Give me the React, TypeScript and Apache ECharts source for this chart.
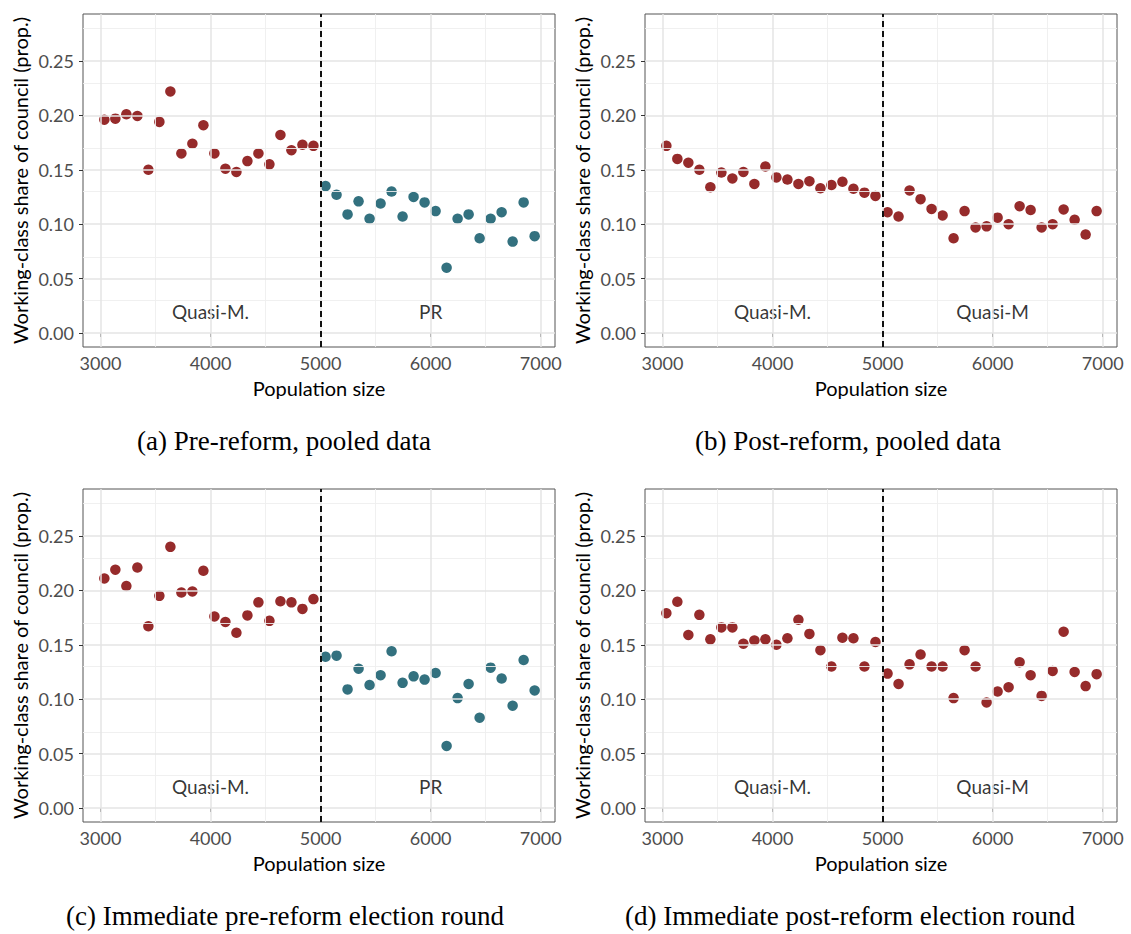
import React, { useEffect, useRef } from "react";
import * as echarts from "echarts";

// Bin centres (population size)
const xLeft = [3035, 3135, 3235, 3335, 3435, 3535, 3635, 3735, 3835, 3935, 4035, 4135, 4235, 4335, 4435, 4535, 4635, 4735, 4835, 4935];
const xRight = [5045, 5145, 5245, 5345, 5445, 5545, 5645, 5745, 5845, 5945, 6045, 6145, 6245, 6345, 6445, 6545, 6645, 6745, 6845, 6945];

// (a) Pre-reform, pooled data
const aLeft = [0.196, 0.197, 0.201, 0.1995, 0.150, 0.194, 0.222, 0.165, 0.174, 0.191, 0.165, 0.151, 0.148, 0.158, 0.165, 0.155, 0.182, 0.168, 0.173, 0.172];
const aRight = [0.135, 0.127, 0.109, 0.121, 0.105, 0.119, 0.130, 0.107, 0.125, 0.120, 0.112, 0.060, 0.105, 0.109, 0.087, 0.105, 0.111, 0.084, 0.120, 0.089];
// (b) Post-reform, pooled data
const bLeft = [0.172, 0.160, 0.1565, 0.150, 0.134, 0.1475, 0.142, 0.148, 0.137, 0.153, 0.143, 0.141, 0.137, 0.1395, 0.133, 0.136, 0.139, 0.1325, 0.129, 0.126];
const bRight = [0.111, 0.107, 0.131, 0.123, 0.114, 0.108, 0.087, 0.112, 0.097, 0.098, 0.106, 0.100, 0.1165, 0.113, 0.097, 0.100, 0.1135, 0.104, 0.0905, 0.112];
// (c) Immediate pre-reform election round
const cLeft = [0.211, 0.219, 0.204, 0.221, 0.167, 0.195, 0.240, 0.198, 0.199, 0.218, 0.176, 0.171, 0.161, 0.177, 0.189, 0.172, 0.190, 0.189, 0.183, 0.192];
const cRight = [0.139, 0.140, 0.109, 0.128, 0.113, 0.122, 0.144, 0.115, 0.121, 0.118, 0.124, 0.057, 0.101, 0.114, 0.083, 0.129, 0.119, 0.094, 0.136, 0.108];
// (d) Immediate post-reform election round
const dLeft = [0.179, 0.1895, 0.159, 0.1775, 0.155, 0.166, 0.166, 0.151, 0.154, 0.155, 0.150, 0.156, 0.173, 0.160, 0.145, 0.130, 0.1565, 0.156, 0.130, 0.1525];
const dRight = [0.1235, 0.114, 0.132, 0.141, 0.130, 0.130, 0.101, 0.145, 0.130, 0.097, 0.107, 0.111, 0.134, 0.122, 0.103, 0.126, 0.162, 0.125, 0.112, 0.123];

const xTicks = [3000, 4000, 5000, 6000, 7000];
const xMinor = [3500, 4500, 5500, 6500];
const yTicks = [0, 0.05, 0.1, 0.15, 0.2, 0.25];
const yMinor = [0.025, 0.075, 0.125, 0.175, 0.225, 0.275];
const threshold = 5000;

const captions = [
  "(a) Pre-reform, pooled data",
  "(b) Post-reform, pooled data",
  "(c) Immediate pre-reform election round",
  "(d) Immediate post-reform election round",
];
const regionLabels = [
  ["Quasi-M.", "PR"],
  ["Quasi-M.", "Quasi-M"],
  ["Quasi-M.", "PR"],
  ["Quasi-M.", "Quasi-M"],
];
const regionLabelX = [4000, 6000];
const regionLabelY = 0.02;

const panels = [
  { left: aLeft, right: aRight, rightColor: "#33717f" },
  { left: bLeft, right: bRight, rightColor: "#962b2b" },
  { left: cLeft, right: cRight, rightColor: "#33717f" },
  { left: dLeft, right: dRight, rightColor: "#962b2b" },
];

const RED = "#962b2b";
const FONT = "Lato, 'Noto Sans', sans-serif";
const GRID_POS = [
  { left: 83, top: 14 },
  { left: 645, top: 14 },
  { left: 83, top: 489 },
  { left: 645, top: 489 },
];
const CAPTION_X = [284, 848, 285, 850];
const GW = 472;
const GH = 333;

export default function App() {
  const ref = useRef<HTMLDivElement>(null);
  useEffect(() => {
    if (!ref.current) return;
    const chart = echarts.init(ref.current, undefined, { renderer: "svg" });

    const grid: any[] = [];
    const xAxis: any[] = [];
    const yAxis: any[] = [];
    const series: any[] = [];
    const graphic: any[] = [];

    panels.forEach((p, i) => {
      const g = GRID_POS[i];
      grid.push({
        left: g.left,
        top: g.top,
        width: GW,
        height: GH,
        show: true,
        borderColor: "#555",
        borderWidth: 1,
        backgroundColor: "transparent",
        containLabel: false,
        outerBoundsMode: "none",
      });
      xAxis.push({
        type: "value",
        gridIndex: i,
        min: 2841,
        max: 7130,
        name: "Population size",
        nameLocation: "middle",
        nameGap: 31,
        nameMoveOverlap: false,
        nameTextStyle: { fontFamily: FONT, fontSize: 20, color: "#000" },
        axisLine: { show: false },
        axisTick: { show: true, length: 4, lineStyle: { color: "#333", width: 1 }, customValues: xTicks },
        axisLabel: {
          fontFamily: FONT,
          fontSize: 18,
          color: "#4d4d4d",
          margin: 7,
          customValues: xTicks,
          formatter: (v: number) => String(v),
        },
        splitLine: { show: false },
      });
      yAxis.push({
        type: "value",
        gridIndex: i,
        min: -0.0129,
        max: 0.2932,
        name: "Working-class share of council (prop.)",
        nameLocation: "middle",
        nameGap: 53,
        nameMoveOverlap: false,
        nameTextStyle: { fontFamily: FONT, fontSize: 20, color: "#000" },
        axisLine: { show: false },
        axisTick: { show: true, length: 4, lineStyle: { color: "#333", width: 1 }, customValues: yTicks },
        axisLabel: {
          fontFamily: FONT,
          fontSize: 18,
          color: "#4d4d4d",
          margin: 9,
          customValues: yTicks,
          formatter: (v: number) => v.toFixed(2),
        },
        splitLine: { show: false },
      });

      const lines: any[] = [];
      xMinor.forEach((v) => lines.push({ xAxis: v, lineStyle: { color: "#eeeeee", width: 0.9, type: "solid" } }));
      yMinor.forEach((v) => lines.push({ yAxis: v, lineStyle: { color: "#eeeeee", width: 0.9, type: "solid" } }));
      xTicks.forEach((v) => lines.push({ xAxis: v, lineStyle: { color: "#e5e5e5", width: 1.5, type: "solid" } }));
      yTicks.forEach((v) => lines.push({ yAxis: v, lineStyle: { color: "#e5e5e5", width: 1.5, type: "solid" } }));
      lines.push({ xAxis: threshold, lineStyle: { color: "#111", width: 2, type: [6, 4] } });

      series.push({
        type: "scatter",
        xAxisIndex: i,
        yAxisIndex: i,
        data: [[3000, 0]],
        symbolSize: 0,
        silent: true,
        z: 1,
        markLine: {
          silent: true,
          symbol: ["none", "none"],
          label: { show: false },
          data: lines,
          animation: false,
        },
      });
      series.push({
        type: "scatter",
        xAxisIndex: i,
        yAxisIndex: i,
        data: xLeft.map((x, k) => [x, p.left[k]]),
        symbolSize: 10.5,
        itemStyle: { color: RED, opacity: 1 },
        z: 3,
      });
      series.push({
        type: "scatter",
        xAxisIndex: i,
        yAxisIndex: i,
        data: xRight.map((x, k) => [x, p.right[k]]),
        symbolSize: 10.5,
        itemStyle: { color: p.rightColor, opacity: 1 },
        z: 3,
      });
      series.push({
        type: "scatter",
        xAxisIndex: i,
        yAxisIndex: i,
        data: regionLabelX.map((x) => [x, regionLabelY]),
        symbolSize: 0,
        silent: true,
        z: 4,
        label: {
          show: true,
          position: "inside",
          fontFamily: FONT,
          fontSize: 19,
          color: "#000",
          formatter: (prm: any) => regionLabels[i][prm.dataIndex],
        },
      });

      graphic.push({
        type: "text",
        x: CAPTION_X[i],
        y: g.top + 427,
        style: {
          text: captions[i],
          fontFamily: "'Liberation Serif', 'DejaVu Serif', serif",
          fontSize: 27,
          fill: "#000",
          textAlign: "center",
          textVerticalAlign: "middle",
        },
      });
    });

    chart.setOption({
      animation: false,
      backgroundColor: "#fff",
      grid,
      xAxis,
      yAxis,
      series,
      graphic,
    });
    return () => chart.dispose();
  }, []);

  return (
    <div
      ref={ref}
      style={{ position: "fixed", left: 0, top: 0, width: 1131, height: 934 }}
    />
  );
}
